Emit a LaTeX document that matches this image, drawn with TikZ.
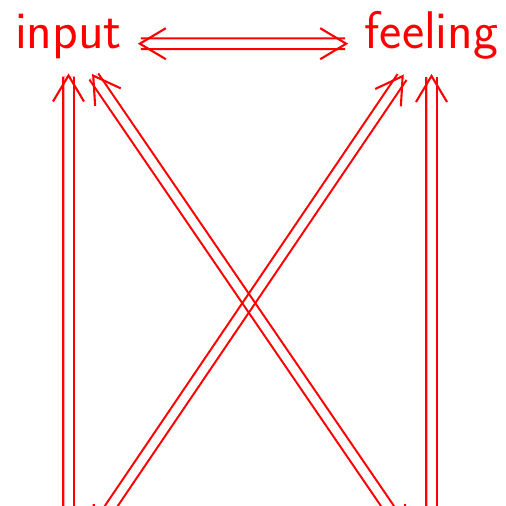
\documentclass[tikz,border=0pt]{standalone}
\usetikzlibrary{arrows.meta}
\begin{document}
\begin{tikzpicture}[
 x=0.5pt,y=-0.5pt,
 lbl/.style={text=red,font=\sffamily\fontsize{26.5}{30}\selectfont,inner sep=0pt,anchor=base},
 dbl/.style={draw=red,line width=1.05pt,double distance=4.25pt,
   {Straight Barb[length=13pt,width=15.5pt,line width=1.05pt]}-{Straight Barb[length=13pt,width=15.5pt,line width=1.05pt]}},
 grp/.style={transparency group}
]
\path[use as bounding box,clip] (0,0) rectangle (506,505);
\node[lbl] (input) at (68.5,48) {input};
\node[lbl] (feeling) at (431.5,48) {feeling};
% lower ends lie below the frame
\coordinate (lowInput) at (68.5,536);
\coordinate (lowCrossL) at (90.9,536);
\coordinate (lowCrossR) at (408,536);
\coordinate (lowFeeling) at (431.5,536);
\begin{scope}[blend mode=multiply]
\begin{scope}[grp]
\draw[dbl,shorten <=7.75pt,shorten >=8pt] (input.mid east)--(feeling.mid west);
\end{scope}
\begin{scope}[grp]
\draw[dbl,shorten >=7.35pt] (lowInput)--(input.south);
\end{scope}
\begin{scope}[grp]
\draw[dbl,shorten >=9.2pt] (lowCrossR)--([xshift=6.6pt]input.south);
\end{scope}
\begin{scope}[grp]
\draw[dbl,shorten >=9.2pt] (lowCrossL)--([xshift=-8.7pt]feeling.south);
\end{scope}
\begin{scope}[grp]
\draw[dbl,shorten >=7.35pt] (lowFeeling)--(feeling.south);
\end{scope}
\end{scope}
\end{tikzpicture}
\end{document}
